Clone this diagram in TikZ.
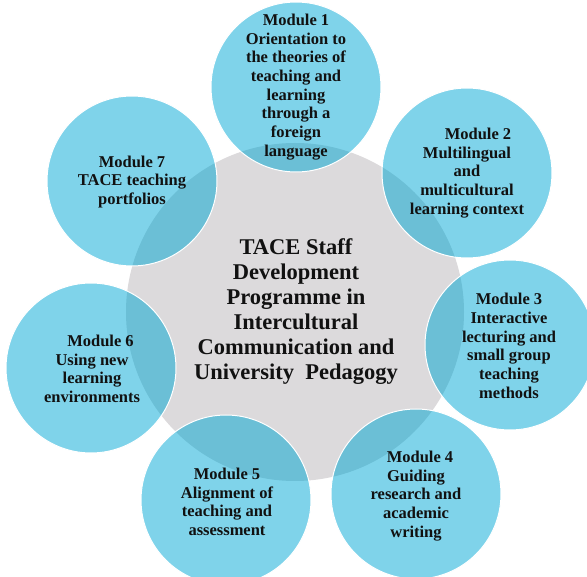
\documentclass[tikz,border=0pt]{standalone}
\usepackage{fontspec}
\setmainfont{Liberation Serif}
\definecolor{taceblue}{HTML}{7FD3EA}
\definecolor{tacedark}{HTML}{6BBFD6}
\definecolor{tacegray}{HTML}{DCDADC}
\definecolor{tacetext}{HTML}{111111}
\begin{document}
\begin{tikzpicture}[x=1pt,y=-1pt,
  modtext/.style={align=center, font=\bfseries\fontsize{16.5}{18.7}\selectfont, text=tacetext, inner sep=0pt},
  centretext/.style={align=center, font=\bfseries\fontsize{22.5}{25}\selectfont, text=tacetext, inner sep=0pt},
  bluedisc/.style={fill=taceblue},
  overlapdisc/.style={fill=tacedark},
  rimline/.style={draw=white, line width=1pt}]
\clip (0,0) rectangle (587,577);
\coordinate (c) at (295,312);
\coordinate (p1) at (296,87);
\coordinate (p2) at (467,173);
\coordinate (p3) at (510,345);
\coordinate (p4) at (416,494);
\coordinate (p5) at (226,500);
\coordinate (p6) at (91,368);
\coordinate (p7) at (132,181);
\fill[tacegray] (c) circle[radius=169pt];
\foreach \p in {p1,p2,p3,p4,p5,p6,p7} \fill[bluedisc] (\p) circle[radius=85pt];
\begin{scope}
  \clip (c) circle[radius=169pt];
  \foreach \p in {p1,p2,p3,p4,p5,p6,p7} \fill[overlapdisc] (\p) circle[radius=85pt];
\end{scope}
\foreach \p in {p1,p2,p3,p4,p5,p6,p7} \draw[rimline] (\p) circle[radius=85pt];
\node[centretext] (centre) at (296,312) {TACE Staff\\Development\\Programme in\\Intercultural\\Communication and\\University\ \ Pedagogy};
\node[modtext] (m1) at (296,87) {Module 1\\Orientation to\\the theories of\\teaching and\\learning\\through a\\foreign\\language};
\node[modtext] (m2) at (467,173) {\hspace*{22pt}Module 2\\Multilingual\\and\\multicultural\\learning context};
\node[modtext] (m3) at (509,346) {Module 3\\Interactive\\lecturing and\\small group\\teaching\\methods};
\node[modtext] (m4) at (416,496) {\hspace*{8pt}Module 4\\Guiding\\research and\\academic\\writing};
\node[modtext] (m5) at (227,502) {Module 5\\Alignment of\\teaching and\\assessment};
\node[modtext] (m6) at (92,369) {\hspace*{17pt}Module 6\\Using new\\learning\\environments};
\node[modtext] (m7) at (132,182) {Module 7\\TACE teaching\\portfolios};
\end{tikzpicture}
\end{document}
